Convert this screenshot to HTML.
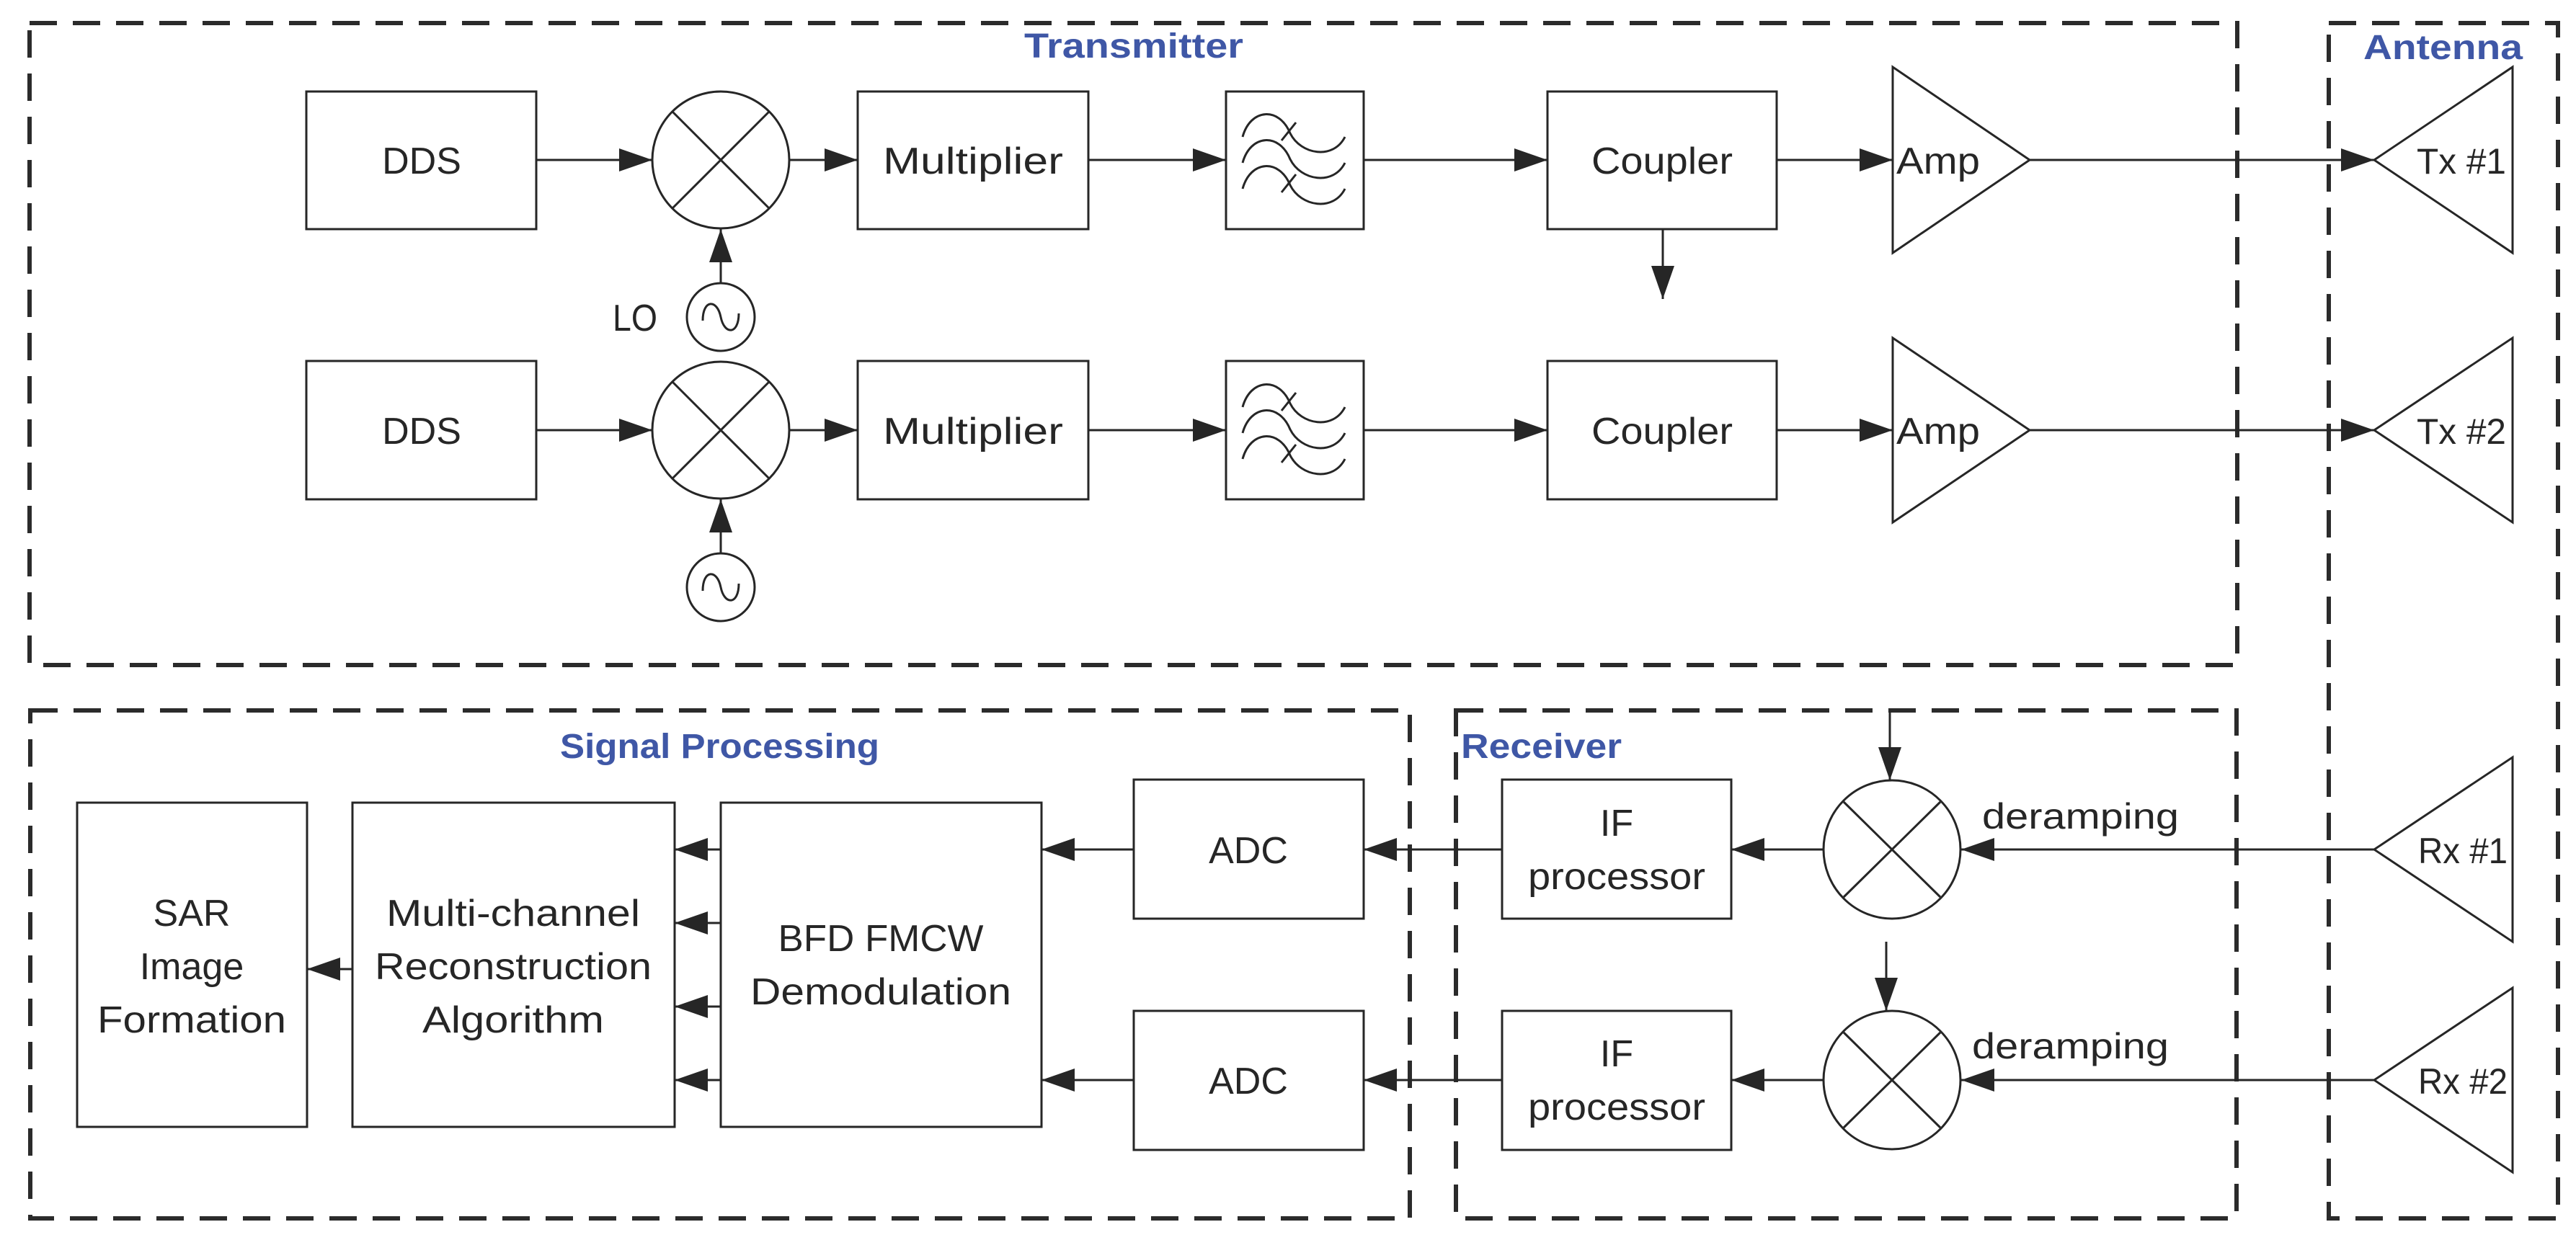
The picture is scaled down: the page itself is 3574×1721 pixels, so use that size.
<!DOCTYPE html>
<html><head><meta charset="utf-8"><style>
html,body{margin:0;padding:0;background:#fff;}
svg{display:block;}
text{font-family:"Liberation Sans Narrow","Liberation Sans",sans-serif;fill:#262626;}
.t{font-size:52px;text-anchor:middle;}
.h{font-size:48px;font-weight:bold;fill:#3f57a6;}
</style></head><body>
<svg width="3574" height="1721" viewBox="0 0 3574 1721" xmlns="http://www.w3.org/2000/svg">
<defs>
<marker id="a" markerUnits="userSpaceOnUse" markerWidth="50" markerHeight="34" refX="46" refY="16" orient="auto">
<path d="M0,0 L46,16 L0,32 Z" fill="#262626"/>
</marker>
</defs>
<g fill="none" stroke="#2b2b2b" stroke-width="6" stroke-dasharray="38 22">
<rect x="41" y="32" width="3063" height="891"/>
<rect x="3231" y="32" width="318" height="1659"/>
<rect x="42" y="986" width="1914" height="705"/>
<rect x="2020" y="986" width="1083" height="705"/>
</g>
<text class="h" x="1421" y="80" textLength="304" lengthAdjust="spacingAndGlyphs">Transmitter</text>
<text class="h" x="3279" y="82" textLength="221" lengthAdjust="spacingAndGlyphs">Antenna</text>
<text class="h" x="777" y="1052" textLength="443" lengthAdjust="spacingAndGlyphs">Signal Processing</text>
<text class="h" x="2027" y="1052" textLength="223" lengthAdjust="spacingAndGlyphs">Receiver</text>

<g fill="none" stroke="#262626" stroke-width="3">
<!-- TX row 1 -->
<rect x="425" y="127" width="319" height="191"/>
<circle cx="1000" cy="222" r="95"/>
<path d="M933,155 L1067,289 M1067,155 L933,289"/>
<rect x="1190" y="127" width="320" height="191"/>
<rect x="1701" y="127" width="191" height="191"/>
<rect x="2147" y="127" width="318" height="191"/>
<path d="M2626,93 L2816,222 L2626,351 Z"/>
<path d="M3294,222 L3486,93 L3486,351 Z"/>
<circle cx="1000" cy="440" r="47"/>
<path d="M975,445 C975,415 995,415 1000,440 C1005,465 1025,465 1025,435"/>
<!-- TX row 2 -->
<rect x="425" y="501" width="319" height="192"/>
<circle cx="1000" cy="597" r="95"/>
<path d="M933,530 L1067,664 M1067,530 L933,664"/>
<rect x="1190" y="501" width="320" height="192"/>
<rect x="1701" y="501" width="191" height="192"/>
<rect x="2147" y="501" width="318" height="192"/>
<path d="M2626,469 L2816,597 L2626,725 Z"/>
<path d="M3294,597 L3486,469 L3486,725 Z"/>
<circle cx="1000" cy="815" r="47"/>
<path d="M975,820 C975,790 995,790 1000,815 C1005,840 1025,840 1025,810"/>
<!-- filters -->
<g id="f">
<path d="M1724,190 C1735,150 1775,148 1790,185 C1805,215 1850,222 1866,190"/>
<path d="M1724,226 C1735,186 1775,184 1790,221 C1805,251 1850,258 1866,226"/>
<path d="M1724,262 C1735,222 1775,220 1790,257 C1805,287 1850,294 1866,262"/>
<path d="M1778,195 L1798,170 M1778,267 L1798,242"/>
</g>
<use href="#f" y="375"/>
<!-- lower boxes -->
<rect x="107" y="1114" width="319" height="450"/>
<rect x="489" y="1114" width="447" height="450"/>
<rect x="1000" y="1114" width="445" height="450"/>
<rect x="1573" y="1082" width="319" height="193"/>
<rect x="1573" y="1403" width="319" height="193"/>
<rect x="2084" y="1082" width="318" height="193"/>
<rect x="2084" y="1403" width="318" height="193"/>
<ellipse cx="2625" cy="1179" rx="95" ry="96"/>
<path d="M2558,1113 L2692,1245 M2692,1113 L2558,1245"/>
<ellipse cx="2625" cy="1499" rx="95" ry="96"/>
<path d="M2558,1433 L2692,1565 M2692,1433 L2558,1565"/>
<path d="M3294,1179 L3486,1051 L3486,1307 Z"/>
<path d="M3294,1499 L3486,1371 L3486,1627 Z"/>
</g>

<g stroke="#262626" stroke-width="3" marker-end="url(#a)">
<line x1="744" y1="222" x2="905" y2="222"/>
<line x1="1095" y1="222" x2="1190" y2="222"/>
<line x1="1510" y1="222" x2="1701" y2="222"/>
<line x1="1892" y1="222" x2="2147" y2="222"/>
<line x1="2465" y1="222" x2="2626" y2="222"/>
<line x1="2816" y1="222" x2="3294" y2="222"/>
<line x1="1000" y1="393" x2="1000" y2="318"/>
<line x1="2307" y1="318" x2="2307" y2="415"/>
<line x1="744" y1="597" x2="905" y2="597"/>
<line x1="1095" y1="597" x2="1190" y2="597"/>
<line x1="1510" y1="597" x2="1701" y2="597"/>
<line x1="1892" y1="597" x2="2147" y2="597"/>
<line x1="2465" y1="597" x2="2626" y2="597"/>
<line x1="2816" y1="597" x2="3294" y2="597"/>
<line x1="1000" y1="768" x2="1000" y2="693"/>
<!-- receiver -->
<line x1="2622" y1="986" x2="2622" y2="1083"/>
<line x1="2617" y1="1307" x2="2617" y2="1403"/>
<line x1="3294" y1="1179" x2="2721" y2="1179"/>
<line x1="3294" y1="1499" x2="2721" y2="1499"/>
<line x1="2530" y1="1179" x2="2402" y2="1179"/>
<line x1="2530" y1="1499" x2="2402" y2="1499"/>
<line x1="2084" y1="1179" x2="1892" y2="1179"/>
<line x1="2084" y1="1499" x2="1892" y2="1499"/>
<line x1="1573" y1="1179" x2="1445" y2="1179"/>
<line x1="1573" y1="1499" x2="1445" y2="1499"/>
<line x1="1000" y1="1179" x2="936" y2="1179"/>
<line x1="1000" y1="1281" x2="936" y2="1281"/>
<line x1="1000" y1="1397" x2="936" y2="1397"/>
<line x1="1000" y1="1499" x2="936" y2="1499"/>
<line x1="489" y1="1345" x2="426" y2="1345"/>
</g>

<text class="t" x="585" y="241">DDS</text>
<text class="t" x="585" y="616">DDS</text>
<text class="t" x="1350" y="241" textLength="250" lengthAdjust="spacingAndGlyphs">Multiplier</text>
<text class="t" x="1350" y="616" textLength="250" lengthAdjust="spacingAndGlyphs">Multiplier</text>
<text class="t" x="2306" y="241" textLength="196" lengthAdjust="spacingAndGlyphs">Coupler</text>
<text class="t" x="2306" y="616" textLength="196" lengthAdjust="spacingAndGlyphs">Coupler</text>
<text x="2631" y="241" style="font-size:52px" textLength="116" lengthAdjust="spacingAndGlyphs">Amp</text>
<text x="2631" y="616" style="font-size:52px" textLength="116" lengthAdjust="spacingAndGlyphs">Amp</text>
<text x="3353" y="241" style="font-size:50px" textLength="124" lengthAdjust="spacingAndGlyphs">Tx #1</text>
<text x="3353" y="616" style="font-size:50px" textLength="124" lengthAdjust="spacingAndGlyphs">Tx #2</text>
<text x="850" y="459" style="font-size:52px" textLength="62" lengthAdjust="spacingAndGlyphs">LO</text>

<text class="t" x="266" y="1285">SAR</text>
<text class="t" x="266" y="1359">Image</text>
<text class="t" x="266" y="1433" textLength="262" lengthAdjust="spacingAndGlyphs">Formation</text>
<text class="t" x="712" y="1285" textLength="352" lengthAdjust="spacingAndGlyphs">Multi-channel</text>
<text class="t" x="712" y="1359" textLength="384" lengthAdjust="spacingAndGlyphs">Reconstruction</text>
<text class="t" x="712" y="1433" textLength="252" lengthAdjust="spacingAndGlyphs">Algorithm</text>
<text class="t" x="1222" y="1320" textLength="285" lengthAdjust="spacingAndGlyphs">BFD FMCW</text>
<text class="t" x="1222" y="1394" textLength="362" lengthAdjust="spacingAndGlyphs">Demodulation</text>
<text class="t" x="1732" y="1198">ADC</text>
<text class="t" x="1732" y="1518">ADC</text>
<text class="t" x="2243" y="1160">IF</text>
<text class="t" x="2243" y="1234" textLength="246" lengthAdjust="spacingAndGlyphs">processor</text>
<text class="t" x="2243" y="1480">IF</text>
<text class="t" x="2243" y="1554" textLength="246" lengthAdjust="spacingAndGlyphs">processor</text>
<text x="2750" y="1150" style="font-size:50px" textLength="273" lengthAdjust="spacingAndGlyphs">deramping</text>
<text x="2736" y="1469" style="font-size:50px" textLength="273" lengthAdjust="spacingAndGlyphs">deramping</text>
<text x="3355" y="1198" style="font-size:50px" textLength="124" lengthAdjust="spacingAndGlyphs">Rx #1</text>
<text x="3355" y="1518" style="font-size:50px" textLength="124" lengthAdjust="spacingAndGlyphs">Rx #2</text>
</svg>
</body></html>
